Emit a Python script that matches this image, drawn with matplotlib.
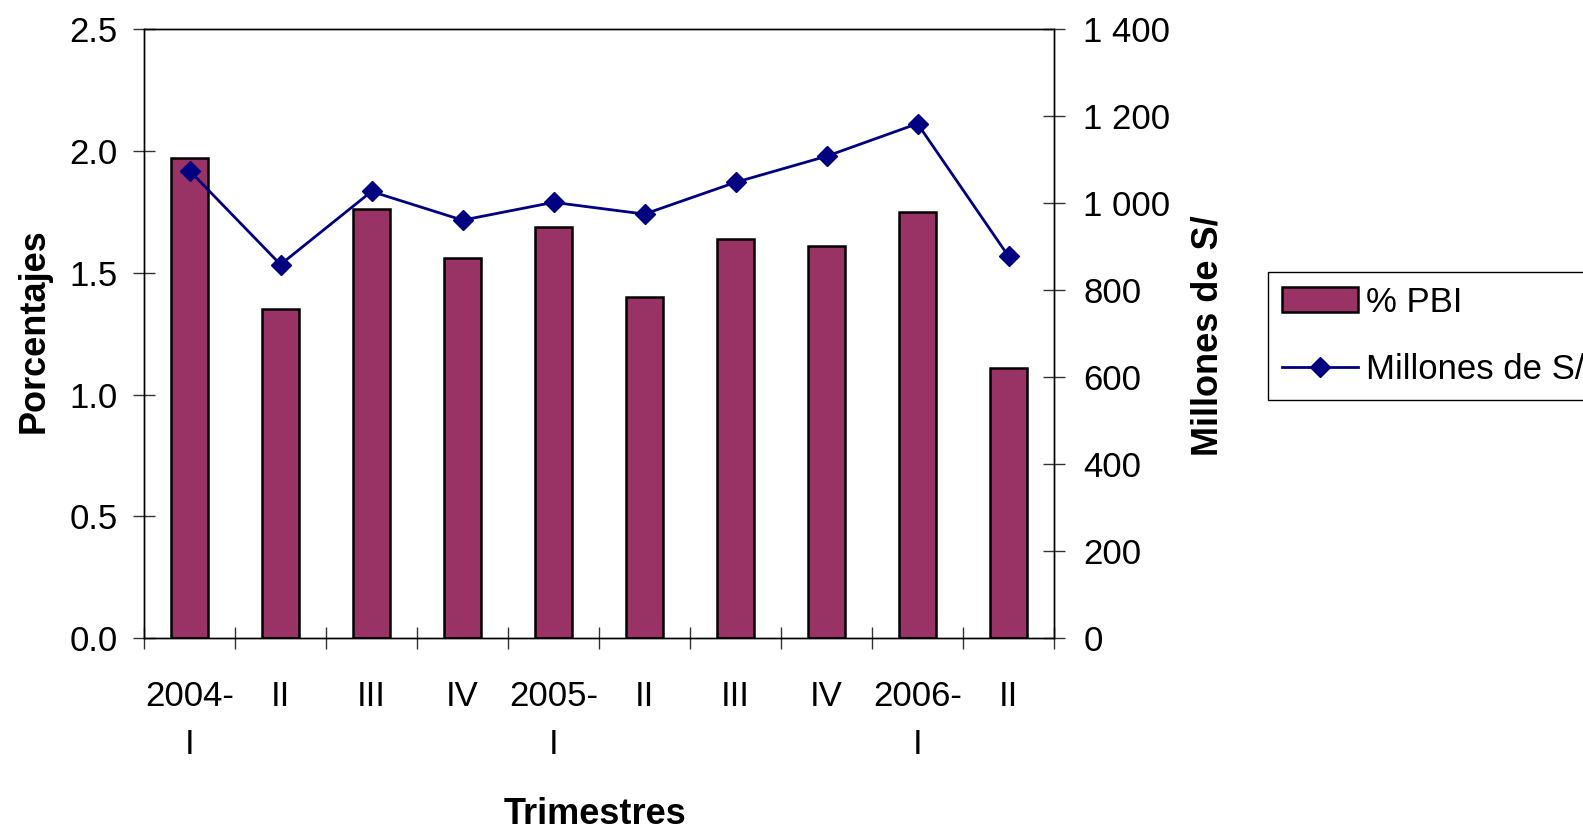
import matplotlib
matplotlib.use("Agg")
import matplotlib.pyplot as plt
from matplotlib.ticker import FuncFormatter, FixedLocator
import numpy as np

plt.rcParams['font.family'] = ['Liberation Sans', 'DejaVu Sans']

categories = ["2004-\nI", "II", "III", "IV", "2005-\nI", "II", "III", "IV", "2006-\nI", "II"]
pct_pbi = [1.97, 1.35, 1.76, 1.56, 1.69, 1.40, 1.64, 1.61, 1.75, 1.11]
millones = [1075, 859, 1027, 961, 1002, 975, 1048, 1108, 1183, 878]
left_ticks = [0.0, 0.5, 1.0, 1.5, 2.0, 2.5]
right_ticks = [0, 200, 400, 600, 800, 1000, 1200, 1400]

W, H = 1583, 831
fig = plt.figure(figsize=(W / 100, H / 100), dpi=100)
x0, x1, y0, y1 = 144, 1054, 29.3, 638
ax = fig.add_axes([x0 / W, 1 - y1 / H, (x1 - x0) / W, (y1 - y0) / H])
ax2 = ax.twinx()

x = np.arange(len(categories))
bars = ax.bar(x, pct_pbi, width=0.41, color='#993366', edgecolor='black',
              linewidth=1.8, label='% PBI', zorder=2)
line, = ax2.plot(x, millones, color='#000080', lw=2.0, marker='D', markersize=10.5,
                 markerfacecolor='#000080', markeredgecolor='#000080', label='Millones de S/')

ax.set_xlim(-0.5, len(categories) - 0.5)
ax.set_ylim(0, 2.5)
ax2.set_ylim(0, 1400)

ax.set_yticks(left_ticks)
ax.yaxis.set_major_formatter(FuncFormatter(lambda v, p: f"{v:.1f}"))
ax2.set_yticks(right_ticks)
ax2.yaxis.set_major_formatter(FuncFormatter(lambda v, p: f"{int(v):,}".replace(",", " ")))

ax.set_xticks(x)
ax.set_xticklabels(categories, linespacing=1.6)
ax.xaxis.set_minor_locator(FixedLocator(np.arange(-0.5, len(categories), 1.0)))
ax.tick_params(axis='x', which='major', length=0, pad=30, labelsize=25)
ax.tick_params(axis='x', which='minor', direction='inout', length=16, width=1, color='#333333')
ax.tick_params(axis='y', direction='inout', length=16, width=1, pad=11, labelsize=25, color='#333333')
ax2.tick_params(axis='y', direction='inout', length=16, width=1, pad=13, labelsize=25, color='#333333')

for a in (ax, ax2):
    for s in a.spines.values():
        s.set_color('black')
        s.set_linewidth(1.0)

ax.set_ylabel('Porcentajes', fontsize=26, fontweight='bold', va='center')
ax.yaxis.set_label_coords(-0.121, 0.505)
ax2.set_ylabel('Millones de S/', fontsize=26, fontweight='bold', rotation=90, va='center')
ax2.yaxis.set_label_coords(1.169, 0.496)
ax.set_xlabel('Trimestres', fontsize=26, fontweight='bold', va='center')
ax.xaxis.set_label_coords(0.4956, -0.29)

leg = fig.legend(handles=[bars, line], labels=['% PBI', 'Millones de S/'],
                 loc='upper left', bbox_to_anchor=(1268 / W, 1 - 271.7 / H),
                 borderaxespad=0, fontsize=25, fancybox=False, framealpha=1,
                 edgecolor='black', borderpad=0.4, handlelength=2.18,
                 handletextpad=0.24, labelspacing=1.0)
leg.get_frame().set_linewidth(1.0)

fig.savefig('out.png', dpi=100)
